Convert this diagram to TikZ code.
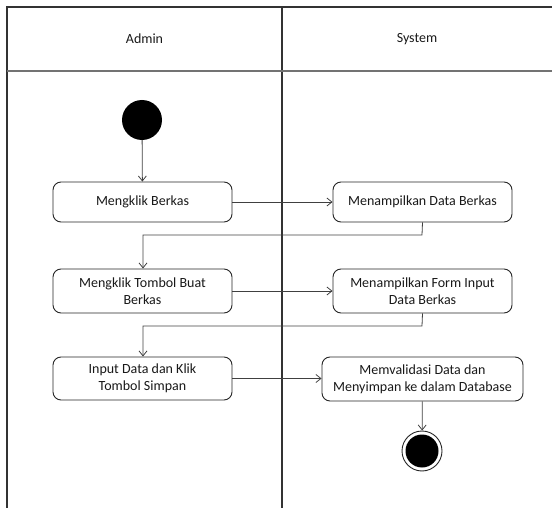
\documentclass[tikz,border=0pt]{standalone}
\usepackage{fontspec}
\setmainfont{Carlito}
\usetikzlibrary{arrows.meta}
\begin{document}
\begin{tikzpicture}[x=1pt,y=-1pt,
  act/.style={draw=black!85, line width=0.9pt, rounded corners=8pt, fill=white, align=center, inner sep=0pt, font=\fontsize{14}{17}\selectfont, text=black!90},
  flow/.style={draw=black!75, line width=0.8pt, -{Straight Barb[length=5pt,width=8pt]}},
  lane/.style={draw=black!80, line width=1.3pt},
  hdr/.style={font=\fontsize{14}{16}\selectfont, text=black!90}]
\useasboundingbox (0,0) rectangle (552,508);
% swimlanes
\draw[lane] (552,7) -- (7,7) -- (7,508);
\draw[lane] (282,7) -- (282,508);
\draw[draw=black!55, line width=2pt] (7,71) -- (552,71);
\node[hdr] (admin) at (144.5,39) {Admin};
\node[hdr] (system) at (417,39) {System};
% nodes
\node[circle, fill=black, minimum size=40pt, inner sep=0pt] (start) at (142,120) {};
\node[act, minimum width=179pt, minimum height=40pt] (a1) at (142.5,202) {Mengklik Berkas};
\node[act, minimum width=179pt, minimum height=40pt] (s1) at (422.5,202) {Menampilkan Data Berkas};
\node[act, minimum width=179pt, minimum height=44pt] (a2) at (142.5,291) {Mengklik Tombol Buat\\Berkas};
\node[act, minimum width=179pt, minimum height=44pt] (s2) at (422.5,291) {Menampilkan Form Input\\Data Berkas};
\node[act, minimum width=179pt, minimum height=43pt] (a3) at (142.5,378.5) {Input Data dan Klik\\Tombol Simpan};
\node[act, minimum width=201pt, minimum height=44pt] (s3) at (422.5,379) {Memvalidasi Data dan\\Menyimpan ke dalam Database};
\node[circle, draw=black!85, line width=0.9pt, minimum size=40pt, inner sep=0pt] (end) at (422,451) {};
\node[circle, fill=black, minimum size=33pt, inner sep=0pt] (endin) at (end) {};
% connectors
\coordinate (c1) at (422,235);
\coordinate (c2) at (143,235);
\coordinate (c3) at (422,326);
\coordinate (c4) at (143,326);
\draw[flow] (start) -- (a1);
\draw[flow] (a1) -- (s1);
\draw[flow] (s1.south) -- (c1) -- (c2) -- (a2.north -| c2);
\draw[flow] (a2) -- (s2);
\draw[flow] (s2.south) -- (c3) -- (c4) -- (a3.north -| c4);
\draw[flow] (a3.east) -- (s3.west |- a3.east);
\draw[flow] (s3) -- (end);
\end{tikzpicture}
\end{document}
